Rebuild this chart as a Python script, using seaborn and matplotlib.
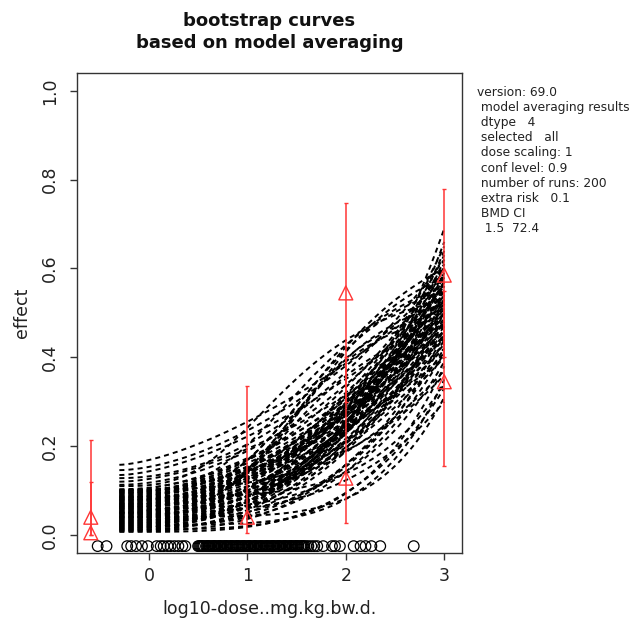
import numpy as np
import pandas as pd
import matplotlib
matplotlib.use("Agg")
import matplotlib.pyplot as plt
import seaborn as sns

# ---------------- data ----------------
# bootstrap curves (power shaped): value at x=-0.3, value at x=3, shape power
pow_start = [0.007, 0.009, 0.011, 0.013, 0.015, 0.017, 0.019, 0.021, 0.023, 0.025,
             0.027, 0.029, 0.031, 0.033, 0.035, 0.037, 0.039, 0.041, 0.043, 0.045,
             0.047, 0.049, 0.051, 0.053, 0.055, 0.057, 0.059, 0.061, 0.063, 0.065,
             0.067, 0.069, 0.071, 0.073, 0.075, 0.077, 0.079, 0.081, 0.083, 0.085,
             0.087, 0.089, 0.091, 0.094, 0.097, 0.100, 0.103,
             0.113, 0.120, 0.128, 0.135, 0.146, 0.158,
             0.012, 0.016, 0.020, 0.024, 0.028, 0.032, 0.036, 0.040, 0.044, 0.048,
             0.052, 0.056, 0.060, 0.064, 0.068, 0.072, 0.076, 0.080, 0.084, 0.088,
             0.092, 0.096, 0.099, 0.102, 0.050]
pow_end = [0.33, 0.45, 0.52, 0.38, 0.58, 0.42, 0.62, 0.47, 0.35, 0.55,
           0.49, 0.66, 0.40, 0.53, 0.44, 0.60, 0.50, 0.31, 0.57, 0.46,
           0.64, 0.51, 0.43, 0.56, 0.48, 0.69, 0.39, 0.54, 0.45, 0.59,
           0.50, 0.37, 0.61, 0.47, 0.55, 0.42, 0.52, 0.63, 0.46, 0.58,
           0.34, 0.51, 0.57, 0.44, 0.60, 0.49, 0.53,
           0.56, 0.48, 0.62, 0.52, 0.58, 0.55,
           0.48, 0.54, 0.41, 0.59, 0.45, 0.50, 0.57, 0.43, 0.52, 0.61,
           0.46, 0.50, 0.55, 0.41, 0.53, 0.57, 0.48, 0.54, 0.65, 0.45,
           0.50, 0.56, 0.40, 0.36, 0.30]
pow_power = [3.6, 3.0, 2.6, 4.2, 2.4, 2.9, 2.7, 2.3, 4.8, 2.5,
             2.8, 3.1, 2.2, 2.6, 3.4, 2.3, 2.1, 5.2, 2.4, 2.5,
             2.9, 2.2, 2.0, 2.7, 2.4, 3.3, 3.8, 2.1, 2.3, 2.5,
             2.0, 2.6, 2.2, 1.9, 2.4, 2.1, 2.3, 2.6, 1.8, 2.2,
             4.4, 2.0, 2.4, 1.9, 2.1, 1.8, 2.0,
             1.9, 1.7, 2.0, 1.6, 1.7, 1.5,
             2.7, 2.5, 3.2, 2.6, 2.4, 2.9, 2.5, 2.3, 2.6, 2.8,
             2.1, 2.5, 2.2, 2.4, 2.3, 2.5, 2.0, 2.2, 2.7, 2.1,
             1.9, 2.3, 2.0, 3.0, 3.4]
# bootstrap curves (sigmoid shaped)
sig_start = [0.060, 0.080, 0.095, 0.050, 0.070, 0.110, 0.040, 0.085, 0.065, 0.100]
sig_end = [0.52, 0.50, 0.55, 0.47, 0.58, 0.53, 0.44, 0.60, 0.49, 0.56]
sig_power = [4.0, 4.5, 4.0, 3.5, 4.0, 3.0, 5.0, 3.5, 4.2, 3.2]
sig_half = [0.60, 0.58, 0.62, 0.60, 0.65, 0.55, 0.62, 0.68, 0.57, 0.63]

# bootstrap BMD values (log10 dose), shown as open circles at the bottom
bmd_log10 = [-0.52, -0.43, -0.22, -0.18, -0.13, -0.07, -0.01, 0.08, 0.12, 0.15,
             0.19, 0.22, 0.26, 0.30, 0.34, 0.37,
             0.50, 0.51, 0.52, 0.53, 0.54, 0.55, 0.56, 0.58, 0.59, 0.60, 0.61,
             0.62, 0.64, 0.65, 0.66, 0.67, 0.68, 0.70, 0.71, 0.72, 0.73, 0.74,
             0.76, 0.77, 0.78, 0.79, 0.80, 0.82, 0.83, 0.84, 0.85, 0.86, 0.88,
             0.89, 0.90, 0.91, 0.92, 0.94, 0.95, 0.96, 0.97, 0.98, 1.00, 1.01,
             1.02, 1.03, 1.04, 1.06, 1.07, 1.08, 1.09, 1.10, 1.12, 1.13, 1.14,
             1.15, 1.16, 1.18, 1.19, 1.20, 1.21, 1.22, 1.24, 1.25, 1.26, 1.27,
             1.28, 1.30, 1.31, 1.32, 1.33, 1.34, 1.36, 1.37, 1.38, 1.39, 1.40,
             1.42, 1.43, 1.44, 1.45, 1.46, 1.48, 1.49, 1.50, 1.51, 1.52, 1.54,
             1.55, 1.56, 1.57, 1.58, 1.60, 1.62, 1.65, 1.68, 1.71, 1.77, 1.86,
             1.89, 1.94, 2.08, 2.15, 2.20, 2.26, 2.35, 2.69]
rug_level = -0.025

# observed responses with confidence intervals
obs_x = [-0.59, -0.59, 1.0, 2.0, 2.0, 3.0, 3.0]
obs_y = [0.005, 0.04, 0.04, 0.128, 0.545, 0.345, 0.585]
obs_lo = [0.0, 0.0, 0.005, 0.027, 0.30, 0.155, 0.40]
obs_hi = [0.12, 0.214, 0.335, 0.40, 0.748, 0.55, 0.78]

x_ticks = [0, 1, 2, 3]
y_ticks = [0.0, 0.2, 0.4, 0.6, 0.8, 1.0]
y_tick_labels = ["0.0", "0.2", "0.4", "0.6", "0.8", "1.0"]

title = "bootstrap curves\nbased on model averaging"
xlabel = "log10-dose..mg.kg.bw.d."
ylabel = "effect"
info_lines = ["version: 69.0",
              " model averaging results",
              " dtype   4",
              " selected   all",
              " dose scaling: 1",
              " conf level: 0.9",
              " number of runs: 200",
              " extra risk   0.1",
              " BMD CI",
              "  1.5  72.4"]

# ---------------- build curve table ----------------
x_grid = np.linspace(-0.3, 3.0, 300)
tt = (x_grid + 0.3) / 3.3
rows = []
cid = 0
for s, e, p in zip(pow_start, pow_end, pow_power):
    y = s + (e - s) * tt ** p
    rows.append(pd.DataFrame({"x": x_grid, "y": y, "curve": cid}))
    cid += 1
for s, e, p, k in zip(sig_start, sig_end, sig_power, sig_half):
    g = tt ** p * (1 + k ** p) / (tt ** p + k ** p)
    y = s + (e - s) * g
    rows.append(pd.DataFrame({"x": x_grid, "y": y, "curve": cid}))
    cid += 1
curves = pd.concat(rows, ignore_index=True)

# ---------------- plot ----------------
sns.set_theme(style="white")
plt.rcParams["font.family"] = ["DejaVu Sans"]

fig = plt.figure(figsize=(6.38, 6.21), dpi=100)
ax = fig.add_axes([0.1207, 0.1095, 0.6034, 0.7729])

sns.lineplot(data=curves, x="x", y="y", units="curve", estimator=None,
             sort=False, color="black", lw=1.4, linestyle=(0, (2.6, 2.1)),
             legend=False, ax=ax)

sns.scatterplot(x=bmd_log10, y=[rug_level] * len(bmd_log10), marker="o", s=58,
                facecolor="none", edgecolor="black", linewidth=0.9, ax=ax,
                legend=False, zorder=3)

oy = np.array(obs_y)
ax.errorbar(obs_x, obs_y, yerr=[oy - np.array(obs_lo), np.array(obs_hi) - oy],
            fmt="none", ecolor="#ff3535", elinewidth=1.1, capsize=1.2, zorder=4)
sns.scatterplot(x=obs_x, y=obs_y, marker="^", s=100, facecolor="none",
                edgecolor="#ff3535", linewidth=1.0, ax=ax, legend=False, zorder=5)

ax.set_xlim(-0.73, 3.18)
ax.set_ylim(-0.0405, 1.04)
ax.set_xticks(x_ticks)
ax.set_xticklabels([str(v) for v in x_ticks])
ax.set_yticks(y_ticks)
ax.set_yticklabels(y_tick_labels, rotation=90, va="center")

for sp in ax.spines.values():
    sp.set_visible(True)
    sp.set_color("#333333")
    sp.set_linewidth(1.0)

ax.tick_params(axis="both", direction="out", length=5, width=1.0, color="#333333",
               labelsize=12.5, labelcolor="#222222")
ax.tick_params(axis="x", bottom=True, pad=5)
ax.tick_params(axis="y", left=True, pad=8)

ax.set_xlabel(xlabel, fontsize=12.5, color="#222222", labelpad=11)
ax.set_ylabel(ylabel, fontsize=12.5, color="#222222", labelpad=7)
ax.set_title(title, fontsize=13, fontweight="bold", linespacing=1.3, pad=18,
             color="#111111")

fig.text(0.7476, 0.862, "\n".join(info_lines), ha="left", va="top",
         fontsize=8.8, linespacing=1.22, color="#222222")

fig.savefig("out.png", dpi=100)
